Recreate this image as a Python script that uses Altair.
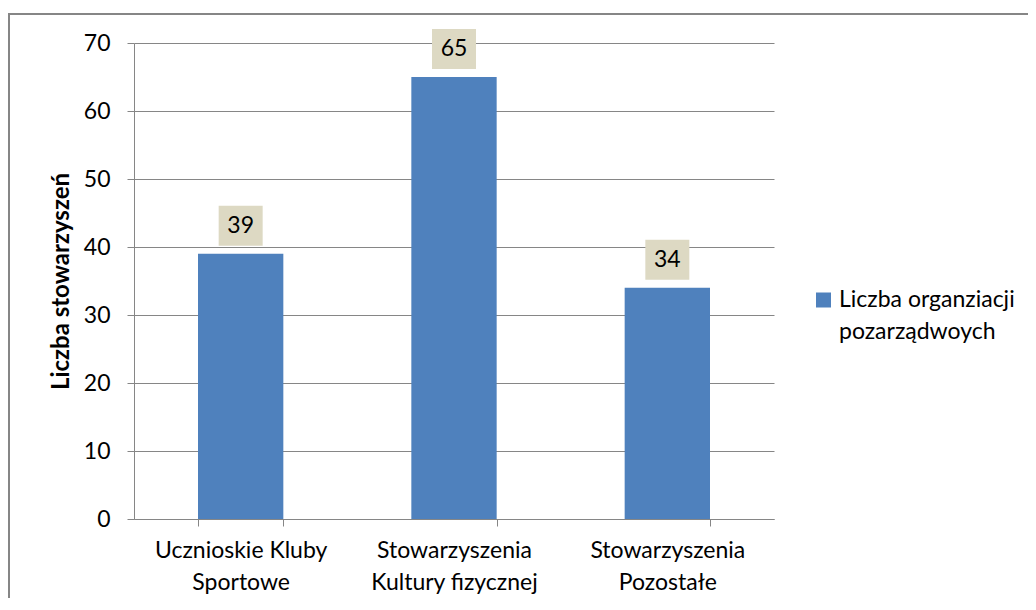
import altair as alt
import pandas as pd

categories = ["Ucznioskie Kluby Sportowe", "Stowarzyszenia Kultury fizycznej", "Stowarzyszenia Pozostałe"]
label_lines = [["Ucznioskie Kluby", "Sportowe"], ["Stowarzyszenia", "Kultury fizycznej"], ["Stowarzyszenia", "Pozostałe"]]
values = [39, 65, 34]
series_name = "Liczba organziacji pozarządwoych"
legend_lines = ["Liczba organziacji", "pozarządwoych"]
y_title = "Liczba stowarzyszeń"
y_ticks = [0, 10, 20, 30, 40, 50, 60, 70]

FONT = "Lato"
GRAY = "#868686"
BLUE = "#4F81BD"
BEIGE = "#DDD9C3"
FS = 23

df = pd.DataFrame({"kategoria": categories, "wartosc": values, "seria": [series_name] * len(values)})

lab_map = "{" + ",".join(f"'{c}': [{', '.join(repr(s) for s in l)}]" for c, l in zip(categories, label_lines)) + "}"
x_label_expr = f"{lab_map}[datum.value]"

x_enc = alt.X("kategoria:N", sort=categories, title=None,
              scale=alt.Scale(paddingInner=0.6, paddingOuter=0.3),
              axis=alt.Axis(labelAngle=0, labelExpr=x_label_expr, tickBand="extent",
                            tickSize=7, tickColor=GRAY, domainColor=GRAY, domainWidth=1,
                            labelFont=FONT, labelFontSize=FS, labelColor="#000000",
                            labelLineHeight=32, labelPadding=13, labelLimit=0))

y_enc = alt.Y("wartosc:Q", title=y_title,
              scale=alt.Scale(domain=[0, 70], nice=False),
              axis=alt.Axis(values=y_ticks, grid=True, gridColor=GRAY, gridWidth=1,
                            tickSize=7, tickColor=GRAY, domainColor=GRAY,
                            labelFont=FONT, labelFontSize=FS, labelColor="#000000", labelPadding=17,
                            titleFont=FONT, titleFontSize=24, titleFontWeight="bold", titleColor="#000000",
                            titleAngle=-90, titleX=-73, titleY=238, titleBaseline="middle", titleAlign="center"))

border = alt.Chart(pd.DataFrame({"d": [0]})).mark_rect(
    fill=None, stroke=GRAY, strokeWidth=2
).encode(x=alt.value(-125), x2=alt.value(1200), y=alt.value(-29), y2=alt.value(800))

bars = alt.Chart(df).mark_bar(color=BLUE).encode(x=x_enc, y=y_enc)

boxes = alt.Chart(df).mark_point(
    shape="M-1.1,-1L1.1,-1L1.1,1L-1.1,1Z", size=1600, filled=True, fill=BEIGE, opacity=1, strokeWidth=0, yOffset=-28
).encode(x=alt.X("kategoria:N", sort=categories), y="wartosc:Q")

texts = alt.Chart(df).mark_text(
    font=FONT, fontSize=FS, color="#000000", baseline="middle", dy=-28
).encode(x=alt.X("kategoria:N", sort=categories), y="wartosc:Q", text="wartosc:Q")

# legend (drawn as marks so the label can wrap onto two lines)
leg_df = pd.DataFrame({"seria": [series_name], "linie": [legend_lines]})
leg_sym = alt.Chart(leg_df).mark_square(size=225, filled=True, opacity=1, color=BLUE).encode(
    x=alt.value(689.5), y=alt.value(257))
leg_txt = alt.Chart(leg_df).mark_text(
    font=FONT, fontSize=FS, color="#000000", align="left", baseline="middle", lineHeight=32
).encode(x=alt.value(705), y=alt.value(257), text="linie")

chart = alt.layer(border, bars, boxes, texts, leg_sym, leg_txt).properties(
    width=640, height=476,
    autosize=alt.AutoSizeParams(type="none"),
    padding={"left": 126, "top": 35, "right": 254, "bottom": 79},
    background="white"
).configure_view(stroke=None)

chart.save("out.html", embed_options={"renderer": "svg", "actions": False})
